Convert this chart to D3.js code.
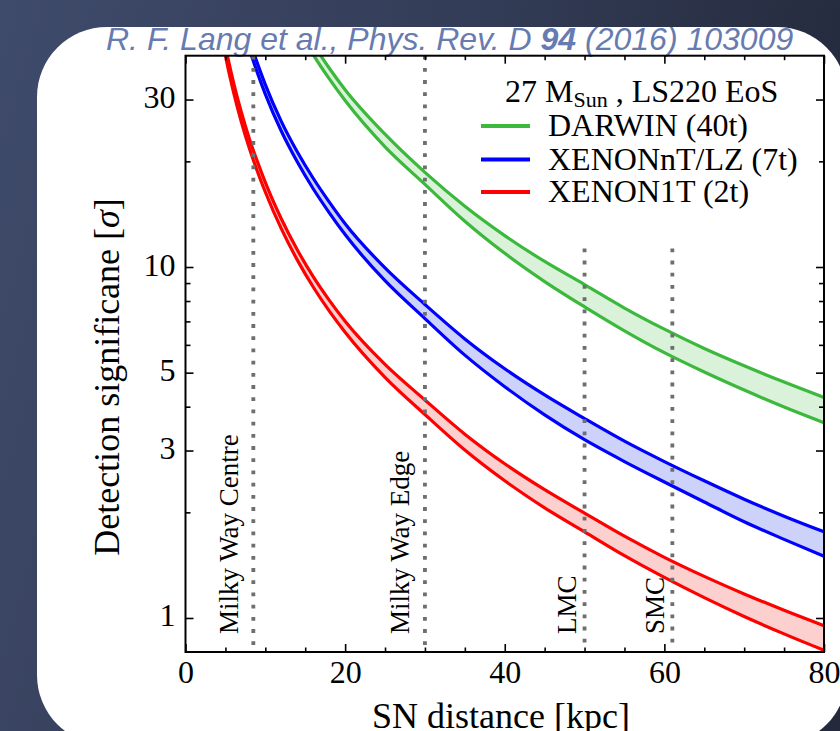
<!DOCTYPE html>
<html>
<head>
<meta charset="utf-8">
<script src="https://cdn.jsdelivr.net/npm/d3@7"></script>
<style>
  html, body { margin: 0; padding: 0; overflow: hidden; background: #343d57; }
  svg { display: block; }
</style>
</head>
<body>
<svg id="chart" width="840" height="731"></svg>
<script>
// ---- data --------------------------------------------------------------
// SN distance grid [kpc]
const distances = [4, 5, 6, 7, 8, 9, 10, 12, 14, 16, 18, 20, 25, 30, 35, 40, 45, 50, 55, 60, 65, 70, 75, 80];

// Detection significance [sigma], lower / upper edge of each band
const darwinLow   = [null, null, null, null, null, null, null, 59.6, 48.3, 40.3, 34.4, 29.8, 22.0, 17.2, 13.5, 10.94, 9.09, 7.70, 6.58, 5.70, 5.02, 4.46, 3.99, 3.60];
const darwinHigh  = [null, null, null, null, null, null, null, 63.6, 51.6, 43.2, 36.9, 32.0, 23.9, 18.6, 14.9, 12.29, 10.37, 8.91, 7.64, 6.65, 5.86, 5.23, 4.70, 4.25];
const xenonntLow  = [null, null, 61.1, 49.9, 41.8, 35.8, 31.1, 24.4, 19.94, 16.71, 14.29, 12.37, 9.14, 7.13, 5.61, 4.56, 3.79, 3.22, 2.79, 2.44, 2.14, 1.88, 1.675, 1.50];
const xenonntHigh = [null, null, 65.1, 53.1, 44.5, 38.1, 33.1, 26.0, 21.3, 17.9, 15.33, 13.28, 9.94, 7.82, 6.24, 5.13, 4.32, 3.70, 3.19, 2.79, 2.46, 2.18, 1.95, 1.76];
const xenon1tLow  = [53.3, 40.0, 31.6, 25.9, 21.8, 18.75, 16.36, 12.86, 10.48, 8.77, 7.50, 6.52, 4.85, 3.80, 3.01, 2.46, 2.06, 1.76, 1.505, 1.305, 1.143, 1.010, 0.901, 0.809];
const xenon1tHigh = [56.8, 42.6, 33.7, 27.6, 23.2, 20.0, 17.42, 13.72, 11.20, 9.39, 8.05, 7.01, 5.28, 4.18, 3.34, 2.75, 2.32, 1.99, 1.71, 1.489, 1.314, 1.171, 1.052, 0.951];

const seriesNames = ["DARWIN (40t)", "XENONnT/LZ (7t)", "XENON1T (2t)"];

// reference distances
const markerNames = ["Milky Way Centre", "Milky Way Edge", "LMC", "SMC"];
const markerDist  = [8.5, 30, 50, 61];
const markerTop   = [40, 40, 11.3, 11.3];

// axis ticks
const xMajorTicks = [0, 20, 40, 60, 80];
const xMinorTicks = [5, 10, 15, 25, 30, 35, 45, 50, 55, 65, 70, 75];
const yMajorTicks = [1, 3, 5, 10, 30];
const yMinorTicks = [2, 4, 6, 7, 8, 9, 20];

// ---- layout ------------------------------------------------------------
const W = 840, H = 731;
const plot = { left: 185.5, top: 55.7, right: 824, bottom: 652 };
const serif = "'Liberation Serif', 'Times New Roman', serif";

const svg = d3.select("#chart");
const defs = svg.append("defs");

const grad = defs.append("linearGradient").attr("id", "bg")
  .attr("x1", "0").attr("y1", "0").attr("x2", "1").attr("y2", "0.25");
grad.append("stop").attr("offset", "0").attr("stop-color", "#3f4b6b");
grad.append("stop").attr("offset", "0.55").attr("stop-color", "#333c56");
grad.append("stop").attr("offset", "1").attr("stop-color", "#242a3c");

svg.append("rect").attr("width", W).attr("height", H).attr("fill", "url(#bg)");
svg.append("rect")
  .attr("x", 37).attr("y", 27).attr("width", 810).attr("height", 718)
  .attr("rx", 70).attr("ry", 70).attr("fill", "#ffffff");

defs.append("clipPath").attr("id", "plotClip").append("rect")
  .attr("x", plot.left).attr("y", plot.top)
  .attr("width", plot.right - plot.left).attr("height", plot.bottom - plot.top);

// ---- scales ------------------------------------------------------------
const x = d3.scaleLinear().domain([0, 80]).range([plot.left, plot.right]);
const y = d3.scaleLog().domain([0.8, 40]).range([plot.bottom, plot.top]);

// ---- citation ----------------------------------------------------------
const cite = svg.append("text")
  .attr("x", 106).attr("y", 50)
  .attr("font-family", "'Liberation Sans', Arial, sans-serif")
  .attr("font-style", "italic").attr("font-size", 32)
  .attr("fill", "#677bb1");
cite.append("tspan").text("R. F. Lang et al., Phys. Rev. D ");
cite.append("tspan").attr("font-weight", "bold").text("94");
cite.append("tspan").text(" (2016) 103009");

// ---- bands -------------------------------------------------------------
const bands = [
  { lo: darwinLow,  hi: darwinHigh,  line: "#3cb93c", fill: "#daf2da" },
  { lo: xenonntLow, hi: xenonntHigh, line: "#0000ff", fill: "#cdd2fb" },
  { lo: xenon1tLow, hi: xenon1tHigh, line: "#ff0000", fill: "#fdd0d0" }
];

const gPlot = svg.append("g").attr("clip-path", "url(#plotClip)");

bands.forEach(b => {
  const rows = distances
    .map((d, i) => ({ d, lo: b.lo[i], hi: b.hi[i] }))
    .filter(r => r.lo != null && r.hi != null);

  const area = d3.area()
    .x(r => x(r.d)).y0(r => y(r.lo)).y1(r => y(r.hi))
    .curve(d3.curveMonotoneX);
  gPlot.append("path").datum(rows).attr("d", area).attr("fill", b.fill);

  ["lo", "hi"].forEach(k => {
    const line = d3.line().x(r => x(r.d)).y(r => y(r[k])).curve(d3.curveMonotoneX);
    gPlot.append("path").datum(rows).attr("d", line)
      .attr("fill", "none").attr("stroke", b.line).attr("stroke-width", 3.2);
  });
});

// ---- reference distance markers ---------------------------------------
markerDist.forEach((d, i) => {
  svg.append("line")
    .attr("x1", x(d)).attr("x2", x(d))
    .attr("y1", y(markerTop[i])).attr("y2", plot.bottom)
    .attr("stroke", "#6e6e6e").attr("stroke-width", 3.8)
    .attr("stroke-dasharray", "3.8 8.4");
  const off = i < 2 ? 15.5 : 8.5;
  svg.append("text")
    .attr("transform", `translate(${x(d) - off},634) rotate(-90)`)
    .attr("font-family", serif).attr("font-size", 27).attr("fill", "#000")
    .text(markerNames[i]);
});

// ---- axes --------------------------------------------------------------
const tickStyle = g => {
  g.select(".domain").remove();
  g.selectAll(".tick line").attr("stroke", "#000").attr("stroke-width", 1.6);
  g.selectAll(".tick text").attr("font-family", serif).attr("font-size", 32).attr("fill", "#000");
};

svg.append("g").attr("transform", `translate(0,${plot.bottom})`)
  .call(d3.axisBottom(x).tickValues(xMajorTicks).tickSize(-8).tickPadding(8.5).tickFormat(d3.format("d")))
  .call(tickStyle);
svg.append("g").attr("transform", `translate(0,${plot.bottom})`)
  .call(d3.axisBottom(x).tickValues(xMinorTicks).tickSize(-4.5).tickFormat(""))
  .call(tickStyle);
svg.append("g").attr("transform", `translate(0,${plot.top})`)
  .call(d3.axisTop(x).tickValues(xMajorTicks).tickSize(-8).tickFormat(""))
  .call(tickStyle);
svg.append("g").attr("transform", `translate(0,${plot.top})`)
  .call(d3.axisTop(x).tickValues(xMinorTicks).tickSize(-4.5).tickFormat(""))
  .call(tickStyle);

const yLeft = svg.append("g").attr("transform", `translate(${plot.left},0)`)
  .call(d3.axisLeft(y).tickValues(yMajorTicks).tickSize(-8).tickPadding(10).tickFormat(d3.format("d")))
  .call(tickStyle);
yLeft.selectAll(".tick text").attr("dy", "0.25em");
svg.append("g").attr("transform", `translate(${plot.left},0)`)
  .call(d3.axisLeft(y).tickValues(yMinorTicks).tickSize(-5).tickFormat(""))
  .call(tickStyle);
svg.append("g").attr("transform", `translate(${plot.right},0)`)
  .call(d3.axisRight(y).tickValues(yMajorTicks).tickSize(-8).tickFormat(""))
  .call(tickStyle);
svg.append("g").attr("transform", `translate(${plot.right},0)`)
  .call(d3.axisRight(y).tickValues(yMinorTicks).tickSize(-5).tickFormat(""))
  .call(tickStyle);

// frame
svg.append("rect")
  .attr("x", plot.left).attr("y", plot.top)
  .attr("width", plot.right - plot.left).attr("height", plot.bottom - plot.top)
  .attr("fill", "none").attr("stroke", "#000").attr("stroke-width", 2);

// axis titles
svg.append("text")
  .attr("x", 501).attr("y", 728).attr("text-anchor", "middle")
  .attr("font-family", serif).attr("font-size", 36).attr("fill", "#000")
  .text("SN distance [kpc]");

const yTitle = svg.append("text")
  .attr("transform", "translate(119,377) rotate(-90)")
  .attr("text-anchor", "middle")
  .attr("font-family", serif).attr("font-size", 36).attr("fill", "#000");
yTitle.append("tspan").text("Detection significane [");
yTitle.append("tspan").attr("font-style", "italic").text("σ");
yTitle.append("tspan").text("]");

// ---- legend ------------------------------------------------------------
const legTitle = svg.append("text")
  .attr("x", 505).attr("y", 102)
  .attr("font-family", serif).attr("font-size", 32).attr("fill", "#000");
legTitle.append("tspan").text("27 M");
legTitle.append("tspan").attr("font-size", 22).attr("dy", 5).text("Sun");
legTitle.append("tspan").attr("dy", -5).text(" , LS220 EoS");

const legendY = [126, 159.5, 192];
seriesNames.forEach((name, i) => {
  svg.append("line")
    .attr("x1", 481).attr("x2", 530).attr("y1", legendY[i]).attr("y2", legendY[i])
    .attr("stroke", bands[i].line).attr("stroke-width", 4);
  svg.append("text")
    .attr("x", 548).attr("y", legendY[i] + 10)
    .attr("font-family", serif).attr("font-size", 32).attr("fill", "#000")
    .text(name);
});
</script>
</body>
</html>
